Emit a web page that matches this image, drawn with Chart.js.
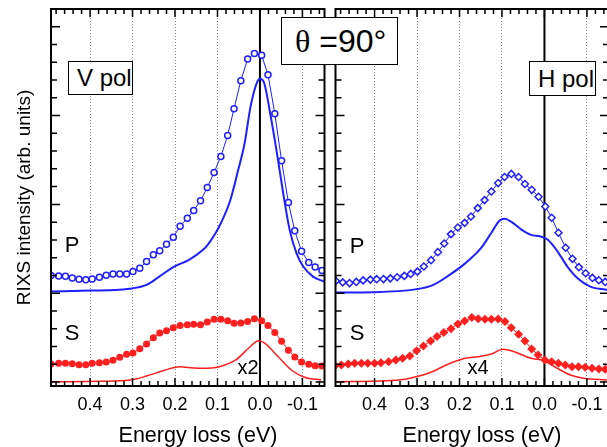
<!DOCTYPE html>
<html>
<head>
<meta charset="utf-8">
<script src="https://cdn.jsdelivr.net/npm/chart.js@4.4.0/dist/chart.umd.min.js"></script>
<style>
  html, body { margin: 0; padding: 0; overflow: hidden; background: #fff; }
  body { position: relative; width: 607px; height: 447px; font-family: 'Liberation Sans', Arial, sans-serif; color: #000; }
  .panel { position: absolute; top: 0; height: 447px; }
  #vpolPanel { left: 0; width: 330px; }
  #hpolPanel { left: 330px; width: 290px; }
  .lbl { position: absolute; transform: translate(-50%, -50%); white-space: nowrap; line-height: 1; }
  .box { position: absolute; box-sizing: border-box; border: 1px solid #000; background: #fff;
         display: flex; align-items: center; white-space: nowrap; line-height: 1; }
</style>
</head>
<body>
<div class="panel" id="vpolPanel"><canvas id="vpol"></canvas></div>
<div class="panel" id="hpolPanel"><canvas id="hpol"></canvas></div>

<div class="box" style="left:68px;top:61px;width:65px;height:34px;font-size:24px;padding-left:8px">V pol</div>
<div class="box" style="left:529px;top:61px;width:67px;height:35px;font-size:24px;padding-left:8px">H pol</div>
<div class="box" style="left:281px;top:17px;width:117px;height:48px;font-size:32px;padding-left:13px"><span style="font-family:'Liberation Serif','Times New Roman',serif">θ</span>&nbsp;=90°</div>

<div class="lbl" style="left:72px;top:245px;font-size:22px">P</div>
<div class="lbl" style="left:72px;top:333px;font-size:22px">S</div>
<div class="lbl" style="left:248px;top:367px;font-size:20px">x2</div>
<div class="lbl" style="left:357px;top:246px;font-size:22px">P</div>
<div class="lbl" style="left:357px;top:333px;font-size:22px">S</div>
<div class="lbl" style="left:478px;top:367px;font-size:20px">x4</div>

<div class="lbl" style="left:198px;top:436px;font-size:21.5px">Energy loss (eV)</div>
<div class="lbl" style="left:482px;top:436px;font-size:21.5px">Energy loss (eV)</div>

<script>
// energy axis labels (eV), shared by both panels
const energyTicks = [0.4, 0.3, 0.2, 0.1, 0.0, -0.1];

// V polarisation: measured points (P = open circles, S = filled circles)
const vEnergy = [0.492, 0.474, 0.458, 0.442, 0.426, 0.410, 0.395, 0.378, 0.362, 0.346,
  0.330, 0.314, 0.299, 0.283, 0.267, 0.251, 0.236, 0.220, 0.204, 0.188,
  0.171, 0.156, 0.140, 0.124, 0.108, 0.092, 0.076, 0.061, 0.045, 0.029,
  0.013, -0.004, -0.019, -0.035, -0.051, -0.067, -0.082, -0.098, -0.115, -0.130, -0.146];
const vP = [1.198, 1.195, 1.191, 1.172, 1.158, 1.150, 1.161, 1.180, 1.203, 1.217,
  1.217, 1.217, 1.243, 1.282, 1.356, 1.432, 1.477, 1.552, 1.631, 1.755,
  1.843, 1.931, 2.040, 2.190, 2.359, 2.540, 2.777, 3.078, 3.393, 3.638,
  3.698, 3.678, 3.461, 3.021, 2.491, 2.021, 1.702, 1.473, 1.345, 1.296, 1.255];
const vS = [0.203, 0.211, 0.211, 0.206, 0.195, 0.195, 0.211, 0.218, 0.225, 0.244,
  0.278, 0.312, 0.326, 0.375, 0.428, 0.499, 0.552, 0.577, 0.612, 0.635,
  0.646, 0.650, 0.646, 0.676, 0.707, 0.707, 0.691, 0.662, 0.665, 0.680,
  0.713, 0.691, 0.635, 0.556, 0.459, 0.357, 0.282, 0.225, 0.199, 0.184, 0.180];

// V polarisation: calculated spectra
const vPCalcEnergy = [0.492, 0.399, 0.332, 0.299, 0.267, 0.237, 0.202, 0.167, 0.134, 0.123,
  0.104, 0.092, 0.071, 0.053, 0.036, 0.022, 0.006, 0.000, -0.010, -0.024,
  -0.040, -0.056, -0.070, -0.086, -0.102, -0.125, -0.151];
const vPCalc = [1.020, 1.029, 1.039, 1.056, 1.094, 1.187, 1.300, 1.375, 1.488, 1.545,
  1.680, 1.790, 2.030, 2.353, 2.691, 3.104, 3.385, 3.416, 3.367, 3.029,
  2.578, 2.089, 1.713, 1.451, 1.300, 1.187, 1.131];
const vSCalcEnergy = [0.492, 0.378, 0.306, 0.267, 0.228, 0.189, 0.174, 0.135, 0.096, 0.057,
  0.027, 0.003, -0.012, -0.043, -0.074, -0.105, -0.144];
const vSCalc = [0.003, 0.008, 0.022, 0.067, 0.127, 0.172, 0.166, 0.154, 0.172, 0.248,
  0.380, 0.465, 0.436, 0.285, 0.135, 0.053, 0.022];

// H polarisation: measured points (P = open diamonds, S = filled diamonds)
const hPEnergy = [0.491, 0.475, 0.459, 0.443, 0.427, 0.410, 0.395, 0.379, 0.363, 0.347,
  0.330, 0.315, 0.299, 0.284, 0.267, 0.251, 0.236, 0.220, 0.204, 0.188,
  0.173, 0.157, 0.141, 0.125, 0.109, 0.094, 0.078, 0.061, 0.046, 0.030,
  0.014, -0.002, -0.017, -0.033, -0.050, -0.066, -0.081, -0.097, -0.113, -0.128, -0.143];
const hP = [1.138, 1.122, 1.114, 1.127, 1.144, 1.153, 1.158, 1.159, 1.167, 1.180,
  1.195, 1.217, 1.243, 1.300, 1.372, 1.462, 1.559, 1.665, 1.739, 1.792,
  1.863, 1.958, 2.048, 2.145, 2.240, 2.308, 2.343, 2.308, 2.229, 2.164,
  2.086, 1.976, 1.849, 1.680, 1.511, 1.387, 1.293, 1.225, 1.172, 1.146, 1.127];
const hSEnergy = [0.493, 0.478, 0.462, 0.447, 0.431, 0.416, 0.400, 0.385, 0.367, 0.350,
  0.334, 0.317, 0.301, 0.285, 0.268, 0.253, 0.237, 0.220, 0.204, 0.188,
  0.171, 0.156, 0.140, 0.125, 0.109, 0.093, 0.078, 0.061, 0.046, 0.030,
  0.015, -0.001, -0.017, -0.033, -0.049, -0.065, -0.080, -0.096, -0.112, -0.128, -0.143];
const hS = [0.184, 0.191, 0.203, 0.211, 0.211, 0.211, 0.211, 0.217, 0.229, 0.248,
  0.267, 0.293, 0.353, 0.406, 0.462, 0.511, 0.556, 0.601, 0.654, 0.688,
  0.725, 0.713, 0.707, 0.707, 0.710, 0.680, 0.612, 0.538, 0.462, 0.372,
  0.304, 0.248, 0.229, 0.211, 0.191, 0.172, 0.172, 0.166, 0.154, 0.146, 0.143];

// H polarisation: calculated spectra
const hPCalcEnergy = [0.492, 0.404, 0.304, 0.264, 0.225, 0.188, 0.148, 0.125, 0.106, 0.094,
  0.078, 0.055, 0.032, 0.009, -0.008, -0.031, -0.054, -0.078, -0.108, -0.148];
const hPCalc = [1.007, 1.011, 1.043, 1.088, 1.201, 1.330, 1.516, 1.680, 1.815, 1.837,
  1.804, 1.719, 1.657, 1.638, 1.601, 1.469, 1.300, 1.169, 1.074, 1.037];
const hSCalcEnergy = [0.492, 0.342, 0.295, 0.264, 0.226, 0.187, 0.156, 0.125, 0.098, 0.071,
  0.032, 0.001, -0.030, -0.061, -0.092, -0.147];
const hSCalc = [0.003, 0.022, 0.067, 0.116, 0.203, 0.267, 0.285, 0.315, 0.368, 0.341,
  0.267, 0.240, 0.154, 0.079, 0.042, 0.022];

const BLUE = '#1f1fff';
const RED = '#ff1f1f';

Chart.defaults.font.family = "'Liberation Sans', Arial, sans-serif";
Chart.defaults.color = '#000';

function pts(xs, ys) {
  return xs.map((x, i) => ({ x: x, y: ys[i] }));
}

// frame, inward tick marks and the zero-loss line
const frameTicks = {
  id: 'frameTicks',
  beforeDatasetsDraw(chart) {
    const { ctx, chartArea: a, scales: { x } } = chart;
    const x0 = x.getPixelForValue(0);
    ctx.save();
    ctx.strokeStyle = '#000';
    ctx.lineWidth = 2;
    ctx.beginPath();
    ctx.moveTo(x0, a.top);
    ctx.lineTo(x0, a.bottom);
    ctx.stroke();
    ctx.restore();
  },
  afterDraw(chart) {
    const { ctx, chartArea: a, scales: { x, y } } = chart;
    ctx.save();
    ctx.strokeStyle = '#000';
    ctx.lineWidth = 1.5;
    ctx.beginPath();
    for (let i = -7; i <= 24; i++) {
      const px = x.getPixelForValue(i * 0.02);
      const len = i % 5 === 0 ? 8 : 5;
      ctx.moveTo(px, a.bottom); ctx.lineTo(px, a.bottom - len);
      ctx.moveTo(px, a.top); ctx.lineTo(px, a.top + len);
    }
    for (let j = 0; j <= 21; j++) {
      const py = y.getPixelForValue(j * 0.2);
      const len = j % 5 === 0 ? 9 : 6;
      ctx.moveTo(a.left, py); ctx.lineTo(a.left + len, py);
      ctx.moveTo(a.right, py); ctx.lineTo(a.right - len, py);
    }
    ctx.stroke();
    ctx.lineWidth = 2;
    ctx.strokeRect(a.left, a.top, a.right - a.left, a.bottom - a.top);
    ctx.restore();
  }
};

function panelConfig(datasets, showY, padLeft, padRight) {
  return {
    type: 'line',
    data: { datasets: datasets },
    options: {
      responsive: true,
      maintainAspectRatio: false,
      animation: false,
      layout: { padding: { top: 9, left: padLeft, right: padRight, bottom: 0 } },
      plugins: { legend: { display: false }, tooltip: { enabled: false } },
      scales: {
        x: {
          type: 'linear',
          reverse: true,
          min: -0.152,
          max: 0.492,
          afterBuildTicks: s => { s.ticks = energyTicks.map(v => ({ value: v })); },
          afterFit: s => { s.height = 61; },
          ticks: { font: { size: 18 }, padding: 8, autoSkip: false, maxRotation: 0,
                   callback: v => v.toFixed(1) },
          grid: { drawTicks: false, lineWidth: 1,
                  color: c => (c.tick && c.tick.value === 0) ? 'rgba(0,0,0,0)' : '#8a8a8a' },
          border: { display: false, dash: [1, 2] }
        },
        y: {
          display: showY,
          min: -0.045,
          max: 4.2,
          afterFit: s => { s.width = showY ? 51 : 0; },
          ticks: { display: false },
          grid: { display: false },
          border: { display: false },
          title: { display: true, text: 'RIXS intensity (arb. units)', font: { size: 19 },
                   padding: { top: 13, bottom: 0 } }
        }
      }
    },
    plugins: [frameTicks]
  };
}

const lineBase = { pointRadius: 0, tension: 0.4, cubicInterpolationMode: 'monotone' };

new Chart(document.getElementById('vpol'), panelConfig([
  Object.assign({ data: pts(vPCalcEnergy, vPCalc), borderColor: BLUE, borderWidth: 2 }, lineBase),
  Object.assign({ data: pts(vSCalcEnergy, vSCalc), borderColor: RED, borderWidth: 1.5 }, lineBase),
  { data: pts(vEnergy, vP), borderColor: BLUE, borderWidth: 1, pointStyle: 'circle', pointRadius: 3,
    pointBorderWidth: 1.5, pointBorderColor: BLUE, pointBackgroundColor: '#fff' },
  { data: pts(vEnergy, vS), borderColor: RED, borderWidth: 1, pointStyle: 'circle', pointRadius: 3.5,
    pointBorderWidth: 0, pointBackgroundColor: RED }
], true, 0, 2));

new Chart(document.getElementById('hpol'), panelConfig([
  Object.assign({ data: pts(hPCalcEnergy, hPCalc), borderColor: BLUE, borderWidth: 2 }, lineBase),
  Object.assign({ data: pts(hSCalcEnergy, hSCalc), borderColor: RED, borderWidth: 1.5 }, lineBase),
  { data: pts(hPEnergy, hP), borderColor: BLUE, borderWidth: 1, pointStyle: 'rectRot', pointRadius: 3.5,
    pointBorderWidth: 1.5, pointBorderColor: BLUE, pointBackgroundColor: '#fff' },
  { data: pts(hSEnergy, hS), borderColor: RED, borderWidth: 1, pointStyle: 'rectRot', pointRadius: 4.5,
    pointBorderWidth: 0, pointBackgroundColor: RED }
], false, 2, 11));
</script>
</body>
</html>
